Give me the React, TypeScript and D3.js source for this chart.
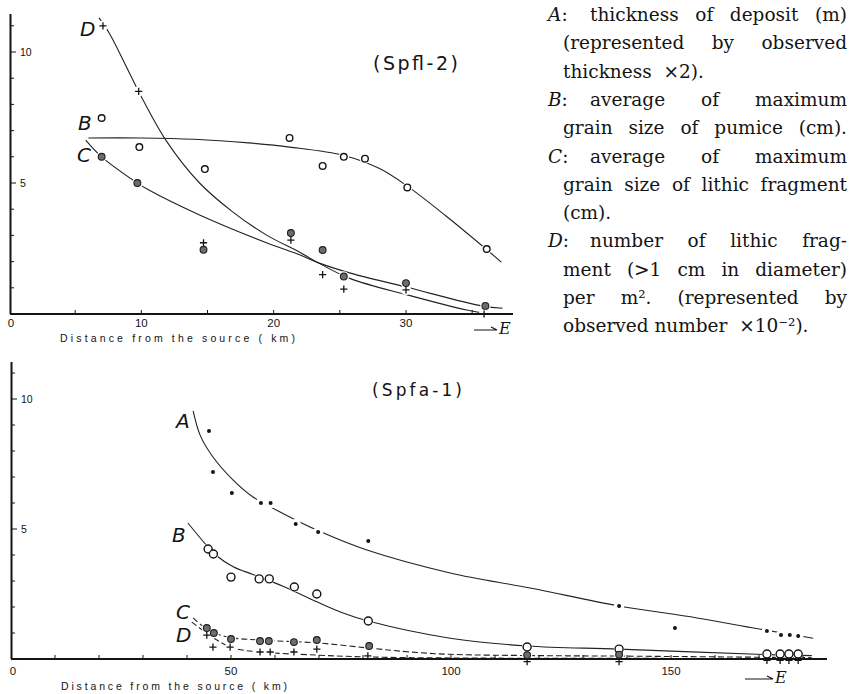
import React, { useEffect, useRef } from "react";
import * as d3 from "d3";

// ---------------- Top panel (Spfl-2) ----------------
const topMajorX = [0, 10, 20, 30];
const topMinorX = [5, 15, 25, 35];
const topMajorY = [5, 10];
const topMinorY = [1, 2, 3, 4, 6, 7, 8, 9, 11];

const topKmB = [7.0, 9.85, 14.8, 21.2, 23.7, 25.3, 26.9, 30.1, 36.1];
const topValB = [7.48, 6.37, 5.53, 6.72, 5.65, 6.0, 5.93, 4.83, 2.48];

const topKmC = [7.0, 9.7, 14.7, 21.3, 23.7, 25.3, 30.0, 36.0];
const topValC = [6.0, 5.0, 2.45, 3.09, 2.44, 1.43, 1.18, 0.31];

const topKmD = [7.1, 9.8, 14.7, 21.3, 23.7, 25.3, 30.0, 35.9];
const topValD = [11.0, 8.5, 2.72, 2.82, 1.5, 0.95, 0.92, 0.0];

const topCurveB: [number, number][] = [
  [6.0, 6.72], [10, 6.72], [14, 6.67], [18.1, 6.53], [21.2, 6.37], [25.3, 6.05],
  [28, 5.55], [30.1, 4.88], [33, 3.75], [36, 2.5], [37.2, 1.98],
];
const topCurveC: [number, number][] = [
  [5.8, 6.64], [7, 6.0], [9.7, 5.0], [10.5, 4.75], [14.4, 3.78], [19.5, 2.71],
  [22, 2.25], [23.3, 1.97], [25.8, 1.56], [30, 1.03], [35.8, 0.3], [37.3, 0.22],
];
const topCurveD: [number, number][] = [
  [6.8, 11.3], [7.6, 10.7], [9.1, 9.2], [10.1, 8.2], [11.9, 6.6], [14.4, 5.0],
  [16.9, 3.9], [19.5, 3.0], [22, 2.35], [23.3, 1.97], [25.8, 1.35], [30.1, 0.73],
  [34.6, 0.15], [36.3, 0.0],
];

// ---------------- Bottom panel (Spfa-1) ----------------
const botMajorX = [0, 50, 100, 150];
const botMinorX = [10, 20, 30, 40, 60, 70, 80, 90, 110, 120, 130, 140, 160, 170, 180];
const botMajorY = [5, 10];
const botMinorY = [1, 2, 3, 4, 6, 7, 8, 9, 11];

const botKmA = [45.0, 45.9, 50.2, 56.8, 59.0, 64.7, 69.8, 81.2, 138.2, 150.9, 171.8, 175.0, 177.0, 178.9];
const botValA = [8.77, 7.19, 6.38, 6.0, 6.0, 5.19, 4.88, 4.54, 2.04, 1.19, 1.08, 0.92, 0.92, 0.88];

const botKmB = [44.8, 46.0, 50.0, 56.4, 58.7, 64.4, 69.5, 81.2, 117.3, 138.2, 171.8, 174.8, 176.8, 178.9];
const botValB = [4.23, 4.04, 3.15, 3.08, 3.08, 2.77, 2.5, 1.46, 0.46, 0.38, 0.19, 0.19, 0.19, 0.19];

const botKmC = [44.5, 46.1, 50.0, 56.6, 58.6, 64.3, 69.5, 81.4, 117.3, 138.2];
const botValC = [1.19, 1.0, 0.77, 0.69, 0.69, 0.65, 0.73, 0.5, 0.15, 0.17];

const botKmD = [44.5, 45.9, 49.8, 56.6, 58.9, 64.3, 69.5, 81.1, 117.3, 138.2, 171.8, 174.8, 176.8, 178.9];
const botValD = [0.92, 0.46, 0.46, 0.27, 0.27, 0.27, 0.38, 0.12, -0.1, -0.1, -0.05, -0.05, -0.05, -0.05];

const botCurveA: [number, number][] = [
  [41.4, 9.54], [43, 8.6], [45.9, 7.77], [50.5, 6.88], [55, 6.23], [61.8, 5.6],
  [69.5, 4.96], [80.9, 4.19], [99.8, 3.31], [118, 2.73], [138.2, 2.04],
  [155.9, 1.58], [171.8, 1.1], [182.3, 0.8],
];
const botCurveB: [number, number][] = [
  [40.2, 5.23], [44.8, 4.3], [46.5, 4.0], [50.5, 3.55], [55, 3.25], [61.8, 2.8],
  [69.5, 2.2], [75, 1.8], [81.2, 1.46], [99.8, 0.8], [117.3, 0.5], [138.2, 0.38],
  [171.8, 0.17], [182, 0.13],
];
const botCurveC: [number, number][] = [
  [41.4, 1.58], [44.5, 1.15], [49.1, 0.85], [56.6, 0.73], [69.5, 0.62], [81.4, 0.42],
  [90, 0.28], [99.8, 0.18], [120, 0.13], [140, 0.11], [182, 0.05],
];
const botCurveD: [number, number][] = [
  [41.1, 1.42], [46.8, 0.73], [50.5, 0.42], [56.6, 0.27], [69.5, 0.15], [80.9, 0.08],
  [99.8, 0.04], [182, 0.02],
];

// ---------------- Texts ----------------
const topTitle = "(Spfl-2)";
const botTitle = "(Spfa-1)";
const xAxisTitle = "Distance from the source ( km)";
const legendLines = [
  "A: thickness of deposit (m)",
  "(represented by observed",
  "thickness  ×2).",
  "B: average of maximum",
  "grain size of pumice (cm).",
  "C: average of maximum",
  "grain size of lithic fragment",
  "(cm).",
  "D: number of lithic frag-",
  "ment (>1 cm in diameter)",
  "per m². (represented by",
  "observed number  ×10⁻²).",
];

// ---------------- Scales ----------------
const xTop = d3.scaleLinear().domain([0, 30]).range([9, 406]);
const yTop = d3.scaleLinear().domain([0, 10]).range([314, 52]);
const xBot = d3.scaleLinear().domain([0, 150]).range([11, 671]);
const yBot = d3.scaleLinear().domain([0, 10]).range([659, 399]);

type Sc = d3.ScaleLinear<number, number>;
const mkLine = (x: Sc, y: Sc) =>
  d3.line<[number, number]>().x((d) => x(d[0])).y((d) => y(d[1])).curve(d3.curveCatmullRom.alpha(0.5));

const INK = "#141414";
const SANS = "'Liberation Sans', Arial, sans-serif";
const SERIF = "'DejaVu Serif', serif";
const LETTER = "'DejaVu Sans', sans-serif";

function Plus({ x, y, s = 3.6 }: { x: number; y: number; s?: number }) {
  return <path d={`M${x - s},${y}H${x + s}M${x},${y - s}V${y + s}`} stroke={INK} strokeWidth={1.3} fill="none" />;
}

function zip(a: number[], b: number[]) {
  return a.map((v, i) => [v, b[i]] as [number, number]);
}

function Panel(props: {
  x: Sc; y: Sc; axisX: [number, number]; axisY: [number, number];
  majorX: number[]; minorX: number[]; majorY: number[]; minorY: number[];
  curves: { pts: [number, number][]; dash?: string }[];
  open: [number, number][]; grey: [number, number][]; plus: [number, number][]; dots: [number, number][];
  openR: number; greyR: number; labelDy: number;
}) {
  const { x, y } = props;
  const line = mkLine(x, y);
  const y0 = y(0);
  const ax = props.axisX[0];
  const all = [...props.open, ...props.grey, ...props.plus, ...props.dots];
  return (
    <g>
      {props.curves.map((c, i) => (
        <path key={i} d={line(c.pts) || ""} fill="none" stroke="#222" strokeWidth={1.1} strokeDasharray={c.dash} />
      ))}
      {all.map((p, i) => (
        <circle key={"h" + i} cx={x(p[0])} cy={y(p[1])} r={5.2} fill="white" />
      ))}
      {/* axes */}
      <line x1={props.axisX[0]} x2={props.axisX[1]} y1={y0} y2={y0} stroke={INK} strokeWidth={2} />
      <line x1={ax + 0.5} x2={ax + 0.5} y1={props.axisY[0]} y2={props.axisY[1]} stroke={INK} strokeWidth={2} />
      {[...props.majorX, ...props.minorX].filter((v) => v > 0).map((v) => (
        <line key={"tx" + v} x1={x(v)} x2={x(v)} y1={y0} y2={y0 - 4} stroke={INK} strokeWidth={1} />
      ))}
      {props.minorY.map((v) => (
        <line key={"my" + v} x1={ax} x2={ax + 4} y1={y(v)} y2={y(v)} stroke={INK} strokeWidth={1} />
      ))}
      {props.majorY.map((v) => (
        <g key={"My" + v}>
          <line x1={ax} x2={ax + 6} y1={y(v)} y2={y(v)} stroke={INK} strokeWidth={1} />
          <text x={ax + 10} y={y(v) + 4} fontFamily={SANS} fontSize={10.5} fill={INK}>{v}</text>
        </g>
      ))}
      {props.majorX.map((v) => (
        <text key={"lx" + v} x={x(v) + (v === 0 ? 2 : 0)} y={y0 + props.labelDy} textAnchor="middle" fontFamily={SANS} fontSize={11.5} fill={INK}>{v}</text>
      ))}
      {/* markers */}
      {props.dots.map((p, i) => (
        <circle key={"a" + i} cx={x(p[0])} cy={y(p[1])} r={2} fill={INK} />
      ))}
      {props.plus.map((p, i) => (
        <Plus key={"d" + i} x={x(p[0])} y={y(p[1])} />
      ))}
      {props.open.map((p, i) => (
        <circle key={"b" + i} cx={x(p[0])} cy={y(p[1])} r={props.openR} fill="white" stroke={INK} strokeWidth={1.4} />
      ))}
      {props.grey.map((p, i) => (
        <circle key={"c" + i} cx={x(p[0])} cy={y(p[1])} r={props.greyR} fill="#6d6d6d" stroke="#1e1e1e" strokeWidth={1.1} />
      ))}
    </g>
  );
}

function Arrow({ x1, x2, y, ex }: { x1: number; x2: number; y: number; ex: number }) {
  return (
    <g>
      <path d={`M${x1},${y}H${x2}M${x2},${y}L${x2 - 6},${y - 3}`} stroke={INK} strokeWidth={1.2} fill="none" />
      <text x={ex} y={y + 4} fontFamily={SERIF} fontStyle="italic" fontSize={16} fill={INK}>E</text>
    </g>
  );
}

export default function App() {
  const ref = useRef<SVGSVGElement>(null);
  useEffect(() => {
    const svg = ref.current;
    if (!svg) return;
    svg.querySelectorAll<SVGTextElement>("text[data-just]").forEach((t) => {
      const target = +(t.getAttribute("data-just") || 0);
      const txt = t.textContent || "";
      t.setAttribute("word-spacing", "0");
      const w = t.getComputedTextLength();
      const spaces = (txt.match(/ /g) || []).length;
      if (w > target) {
        t.setAttribute("textLength", String(target));
        t.setAttribute("lengthAdjust", "spacingAndGlyphs");
      } else if (spaces > 0 && !txt.includes("  ") && w > 0.5 * target) {
        t.setAttribute("word-spacing", String((target - w) / spaces));
      }
    });
  }, []);

  const legendBase = 21;
  const legendStep = 28.3;
  const right = 847;
  const LFS = 18.5;

  return (
    <svg ref={ref} width={850} height={694} viewBox="0 0 850 694"
      style={{ position: "absolute", left: 0, top: 0, background: "white" }}>
      <rect width={850} height={694} fill="white" />

      {/* Top panel */}
      <Panel
        x={xTop} y={yTop} axisX={[10, 513]} axisY={[14, 314]}
        majorX={topMajorX} minorX={topMinorX} majorY={topMajorY} minorY={topMinorY}
        curves={[{ pts: topCurveB }, { pts: topCurveC }, { pts: topCurveD }]}
        open={zip(topKmB, topValB)} grey={zip(topKmC, topValC)} plus={zip(topKmD, topValD)} dots={[]}
        openR={3.3} greyR={3.4} labelDy={13}
      />
      <text x={60} y={342} fontFamily={SANS} fontSize={10.5} textLength={235} lengthAdjust="spacing" fill={INK} style={{ whiteSpace: "pre" }}>{xAxisTitle}</text>
      <text x={373} y={70} fontFamily={LETTER} fontSize={19} textLength={85} lengthAdjust="spacing" fill={INK}>{topTitle}</text>
      <text x={80} y={36} fontFamily={LETTER} fontStyle="italic" fontSize={20} fill={INK}>D</text>
      <text x={78} y={130} fontFamily={LETTER} fontStyle="italic" fontSize={20} fill={INK}>B</text>
      <text x={77} y={162} fontFamily={LETTER} fontStyle="italic" fontSize={20} fill={INK}>C</text>
      <Arrow x1={474} x2={497} y={330} ex={499} />

      {/* Bottom panel */}
      <Panel
        x={xBot} y={yBot} axisX={[11, 827]} axisY={[362, 659]}
        majorX={botMajorX} minorX={botMinorX} majorY={botMajorY} minorY={botMinorY}
        curves={[{ pts: botCurveA }, { pts: botCurveB }, { pts: botCurveC, dash: "6 3" }, { pts: botCurveD, dash: "6 3" }]}
        open={zip(botKmB, botValB)} grey={zip(botKmC, botValC)} plus={zip(botKmD, botValD)} dots={zip(botKmA, botValA)}
        openR={4} greyR={3.4} labelDy={16}
      />
      <text x={61} y={690} fontFamily={SANS} fontSize={10.5} textLength={226} lengthAdjust="spacing" fill={INK} style={{ whiteSpace: "pre" }}>{xAxisTitle}</text>
      <text x={372} y={396} fontFamily={LETTER} fontSize={17} textLength={90} lengthAdjust="spacing" fill={INK}>{botTitle}</text>
      <text x={176} y={428} fontFamily={LETTER} fontStyle="italic" fontSize={20} fill={INK}>A</text>
      <text x={172} y={542} fontFamily={LETTER} fontStyle="italic" fontSize={20} fill={INK}>B</text>
      <text x={176} y={619} fontFamily={LETTER} fontStyle="italic" fontSize={20} fill={INK}>C</text>
      <text x={176} y={642} fontFamily={LETTER} fontStyle="italic" fontSize={20} fill={INK}>D</text>
      <Arrow x1={745} x2={773} y={679} ex={775} />

      {/* Legend */}
      {legendLines.map((ln, i) => {
        const m = ln.match(/^([A-D]): (.*)$/);
        const yy = legendBase + i * legendStep;
        const startX = m ? 590 : 563;
        const body = m ? m[2] : ln;
        return (
          <g key={i}>
            {m && (
              <text x={548} y={yy} fontFamily={SERIF} fontSize={LFS} fill={INK}>
                <tspan fontStyle="italic">{m[1]}</tspan>:
              </text>
            )}
            <text x={startX} y={yy} fontFamily={SERIF} fontSize={LFS} fill={INK}
              data-just={right - startX} style={{ whiteSpace: "pre" }}>
              {body}
            </text>
          </g>
        );
      })}
    </svg>
  );
}
